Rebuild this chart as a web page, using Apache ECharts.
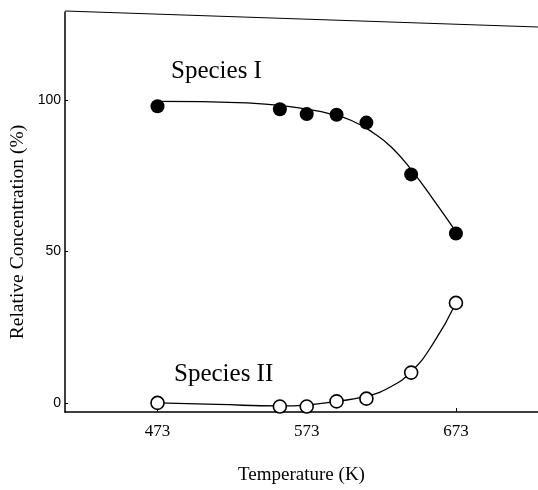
<!DOCTYPE html>
<html>
<head>
<meta charset="utf-8">
<script src="https://cdn.jsdelivr.net/npm/echarts@6/dist/echarts.min.js"></script>
<style>
  html, body { margin: 0; padding: 0; background: #fff; }
  #chart { width: 538px; height: 490px; }
</style>
</head>
<body>
<div id="chart"></div>
<script>
const temps = [473, 555, 573, 593, 613, 643, 673];
const speciesI = [97.9, 96.9, 95.3, 95.1, 92.5, 75.4, 55.9];
const speciesII = [0, -1.2, -1.2, 0.5, 1.4, 10, 33];

// hand-drawn fit curves
const curveTempI = [473, 503, 533, 555, 573, 588, 603, 618, 630, 643, 658, 673];
const curveI = [99.5, 99.4, 99.0, 98.2, 96.9, 95.5, 93.2, 89.0, 84.3, 77.0, 67.0, 56.5];
const curveTempII = [473, 513, 555, 573, 593, 613, 628, 643, 658, 673];
const curveII = [0, -0.5, -1.0, -0.7, 0.5, 2.2, 5.0, 10.3, 19.8, 33];

const xTicks = [473, 573, 673];
const yTicks = [0, 50, 100];

const serif = "Liberation Serif";
const pair = (xs, ys) => xs.map((x, i) => [x, ys[i]]);

const chart = echarts.init(document.getElementById("chart"));

chart.setOption({
  backgroundColor: "#fff",
  animation: false,
  grid: { left: 65, right: 0, top: 12, bottom: 76 },
  xAxis: {
    type: "value",
    min: 411,
    max: 728,
    name: "Temperature (K)",
    nameLocation: "middle",
    nameGap: 54,
    nameTextStyle: { fontFamily: serif, fontSize: 19, color: "#000" },
    axisLine: { onZero: false, lineStyle: { color: "#000", width: 1.5 } },
    axisTick: { show: true, inside: true, length: 4, customValues: xTicks, lineStyle: { color: "#000" } },
    axisLabel: { customValues: xTicks, margin: 11, fontFamily: serif, fontSize: 17, color: "#000" },
    splitLine: { show: false }
  },
  yAxis: {
    type: "value",
    min: -3,
    max: 129,
    axisLine: { show: true, onZero: false, lineStyle: { color: "#000", width: 1.5 } },
    axisTick: { show: true, inside: true, length: 3, customValues: yTicks, lineStyle: { color: "#000" } },
    axisLabel: { customValues: yTicks, margin: 4, fontFamily: "Liberation Sans", fontSize: 14, color: "#000" },
    splitLine: { show: false }
  },
  graphic: [
    // top frame line (slightly tilted in the scan)
    { type: "line", shape: { x1: 65, y1: 11, x2: 538, y2: 27 }, style: { stroke: "#000", lineWidth: 1.2 } },
    { type: "text", x: 171, y: 71, style: { text: "Species I", font: "25px 'Liberation Serif'", fill: "#000", verticalAlign: "middle" } },
    { type: "text", x: 174, y: 374, style: { text: "Species II", font: "25px 'Liberation Serif'", fill: "#000", verticalAlign: "middle" } },
    {
      type: "text", x: 18, y: 232, rotation: Math.PI / 2,
      style: { text: "Relative Concentration (%)", font: "19.5px 'Liberation Serif'", fill: "#000", align: "center", verticalAlign: "middle" }
    }
  ],
  series: [
    {
      type: "line",
      data: pair(curveTempI, curveI),
      smooth: 0.5,
      showSymbol: false,
      lineStyle: { color: "#000", width: 1.3 },
      z: 2
    },
    {
      type: "line",
      data: pair(curveTempII, curveII),
      smooth: 0.5,
      showSymbol: false,
      lineStyle: { color: "#000", width: 1.3 },
      z: 2
    },
    {
      type: "scatter",
      data: pair(temps, speciesI),
      symbol: "circle",
      symbolSize: 14,
      itemStyle: { color: "#000", opacity: 1 },
      z: 3
    },
    {
      type: "scatter",
      data: pair(temps, speciesII),
      symbol: "circle",
      symbolSize: 13,
      itemStyle: { color: "#fff", borderColor: "#000", borderWidth: 1.6, opacity: 1 },
      z: 3
    }
  ]
});
</script>
</body>
</html>
